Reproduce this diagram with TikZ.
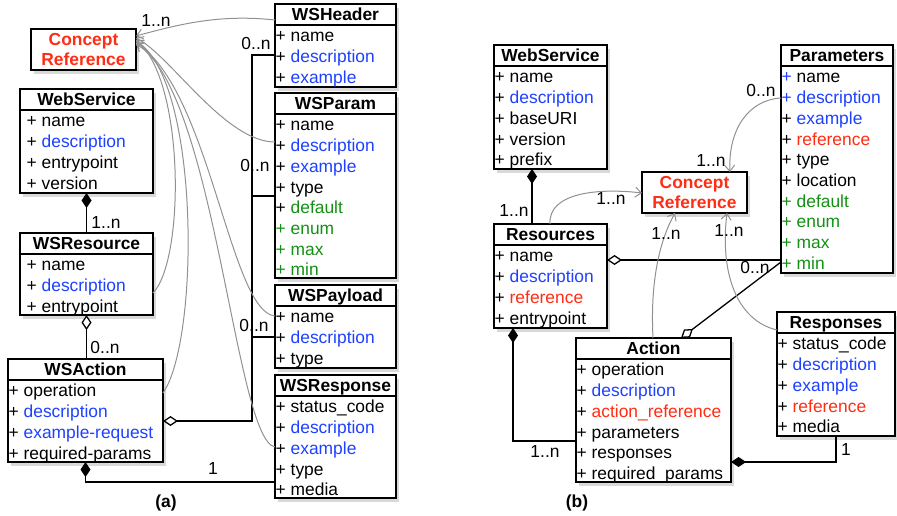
\documentclass[tikz,border=0pt]{standalone}
\usepackage{fontspec}
\setmainfont{Liberation Sans}
\usetikzlibrary{arrows.meta,shadows,calc}
\definecolor{ublue}{RGB}{30,65,255}
\definecolor{ured}{RGB}{255,45,20}
\definecolor{ugreen}{RGB}{20,145,20}
\definecolor{ugrey}{RGB}{145,145,145}
\newcommand{\inblue}[1]{\textcolor{ublue}{#1}}
\newcommand{\inred}[1]{\textcolor{ured}{#1}}
\newcommand{\ingreen}[1]{\textcolor{ugreen}{#1}}
\tikzset{
  classbox/.style={draw=black, line width=1.6pt, fill=white, outer sep=0pt, inner sep=0pt,
    drop shadow={opacity=0.3, shadow xshift=3pt, shadow yshift=-4pt}},
  boxline/.style={line width=1.4pt},
  classtitle/.style={font=\fontsize{17.4}{20.7}\selectfont\bfseries, inner sep=0pt},
  classattr/.style={font=\fontsize{17.4}{20.7}\selectfont, align=left, inner sep=0pt},
  crefbox/.style={classbox, font=\fontsize{17.4}{20}\selectfont\bfseries, text=ured, align=center},
  lbl/.style={font=\fontsize{17.4}{20}\selectfont, inner sep=0pt},
  conn/.style={line width=1.3pt},
  refarrow/.style={draw=ugrey, line width=1pt, -{Straight Barb[length=6pt,width=10pt]}},
  fdia/.style={{Diamond[length=15pt,width=10pt,fill=black]}-},
  odia/.style={{Diamond[length=15pt,width=10pt,fill=white]}-},
}
\newcommand{\umlbox}[8]{%
  \node[classbox, minimum width=#4pt, minimum height=#5pt, anchor=north west] (#1) at (#2,#3) {};
  \draw[boxline] ($(#1.north west)+(0,21)$) -- ($(#1.north east)+(0,21)$);
  \node[classtitle, anchor=base] (#1-t) at ($(#1.north)+(0,16.5)$) {#6};
  \node[classattr, anchor=north west] (#1-a) at ($(#1.north west)+(#8,23.3)$) {#7};
}
\begin{document}
\begin{tikzpicture}[x=1pt,y=-1pt]
\useasboundingbox (0,0) rectangle (897,516);
% ---------- (a) ----------
\node[crefbox, minimum width=105pt, minimum height=41pt, anchor=north west] (cref1) at (31,29) {Concept\\Reference};
\umlbox{ws1}{20}{89}{133}{104}{WebService}{\strut+ name\\+ \inblue{description}\\+ entrypoint\\+ version}{6.5}
\umlbox{wsr1}{20}{233}{133}{82}{WSResource}{\strut+ name\\+ \inblue{description}\\+ entrypoint}{6.5}
\umlbox{wsa1}{8}{359}{155}{103}{WSAction}{\strut+ operation\\+ \inblue{description}\\+ \inblue{example-request}\\+ required-params}{0.5}
\umlbox{wsh}{275}{4}{121}{83}{WSHeader}{\strut+ name\\+ \inblue{description}\\+ \inblue{example}}{0.5}
\umlbox{wsp}{275}{93}{121}{185}{WSParam}{\strut+ name\\+ \inblue{description}\\+ \inblue{example}\\+ type\\+ \ingreen{default}\\\ingreen{+ enum}\\\ingreen{+ max}\\\ingreen{+ min}}{0.5}
\umlbox{wspl}{275}{285}{121}{83}{WSPayload}{\strut+ name\\+ \inblue{description}\\+ type}{0.5}
\umlbox{wsresp}{275}{375}{121}{123}{WSResponse}{\strut+ status\_code\\+ \inblue{description}\\+ \inblue{example}\\+ type\\+ media}{0.5}

\draw[conn, fdia] (ws1.south) -- (ws1.south |- wsr1.north);
\draw[conn, odia] (wsr1.south) -- (wsr1.south |- wsa1.north);
\draw[conn, fdia] (wsa1.south) -- (wsa1.south |- 0,482) -- (wsresp.west |- 0,482);
\draw[conn, odia] (wsa1.east |- 0,421) -- (252,421) -- (252,55) -- (wsh.west |- 0,55);
\draw[conn] (252,196) -- (wsp.west |- 0,196);
\draw[conn] (252,337) -- (wspl.west |- 0,337);

\draw[refarrow] (wsh.west |- 0,20) .. controls (220,14) and (180,24) .. (cref1.east |- 0,36);
\draw[refarrow] (wsp.west |- 0,142) .. controls (225,142) and (170,55) .. (cref1.east |- 0,38);
\draw[refarrow] (wsr1.east |- 0,293) .. controls (185,260) and (185,80) .. (cref1.east |- 0,40);
\draw[refarrow] (wsa1.east |- 0,393) .. controls (200,340) and (200,80) .. (cref1.east |- 0,41);
\draw[refarrow] (wspl.west |- 0,316) .. controls (230,312) and (210,90) .. (cref1.east |- 0,43);
\draw[refarrow] (wsresp.west |- 0,447) .. controls (235,440) and (215,90) .. (cref1.east |- 0,44);

\node[lbl] (la1) at (156,21) {1..n};
\node[lbl] (la2) at (106,223) {1..n};
\node[lbl] (la3) at (105,348) {0..n};
\node[lbl] (la4) at (213,469) {1};
\node[lbl] (la5) at (256,44) {0..n};
\node[lbl] (la6) at (255,166) {0..n};
\node[lbl] (la7) at (254,326) {0..n};
\node[lbl, font=\fontsize{17.4}{20}\selectfont\bfseries] (capa) at (166,503) {(a)};

% ---------- (b) ----------
\umlbox{ws2}{494}{45}{113}{124}{WebService}{\strut+ name\\+ \inblue{description}\\+ baseURI\\+ version\\+ prefix}{0.5}
\umlbox{res}{494}{224}{113}{104}{Resources}{\strut+ name\\+ \inblue{description}\\+ \inred{reference}\\+ entrypoint}{0.5}
\node[crefbox, minimum width=105pt, minimum height=41pt, anchor=north west] (cref2) at (642,172) {Concept\\Reference};
\umlbox{par}{781}{45}{112}{228}{Parameters}{\strut\inblue{+} name\\\inblue{+ description}\\+ \inblue{example}\\+ \inred{reference}\\+ type\\+ location\\\ingreen{+ default}\\\ingreen{+ enum}\\\ingreen{+ max}\\\ingreen{+ min}}{0.5}
\umlbox{act}{576}{338}{155}{144}{Action}{\strut+ operation\\+ \inblue{description}\\+ \inred{action\_reference}\\+ parameters\\+ responses\\+ required\_params}{0.5}
\umlbox{resp}{777}{312}{118}{124}{Responses}{\strut+ status\_code\\+ \inblue{description}\\+ \inblue{example}\\+ \inred{reference}\\+ media}{0.5}

\draw[conn, fdia] (ws2.south -| 532,0) -- (res.north -| 532,0);
\draw[refarrow] (res.north -| 550,0) .. controls (548,192) and (600,188) .. (cref2.west |- 0,193);
\draw[refarrow] (par.west |- 0,98) .. controls (748,100) and (728,130) .. (cref2.north -| 730,0);
\draw[conn, odia] (res.east |- 0,260) -- (par.west |- 0,260);
\draw[conn, odia] (act.north -| 681,0) -- (par.west |- 0,262);
\draw[refarrow] (act.north -| 653,0) .. controls (650,280) and (660,240) .. (cref2.south -| 675,0);
\draw[refarrow] (resp.west |- 0,330) .. controls (735,320) and (720,270) .. (cref2.south -| 727,0);
\draw[conn, fdia] (act.east |- 0,462) -- (resp.south |- 0,462) -- (resp.south);
\draw[conn, fdia] (res.south -| 513,0) -- (513,441) -- (act.west |- 0,441);

\node[lbl] (lb1) at (514,211) {1..n};
\node[lbl] (lb2) at (611,199) {1..n};
\node[lbl] (lb3) at (761,91) {0..n};
\node[lbl] (lb4) at (711,161) {1..n};
\node[lbl] (lb5) at (666,234) {1..n};
\node[lbl] (lb6) at (729,231) {1..n};
\node[lbl] (lb7) at (755,268) {0..n};
\node[lbl] (lb8) at (846,450) {1};
\node[lbl] (lb9) at (545,452) {1..n};
\node[lbl, font=\fontsize{17.4}{20}\selectfont\bfseries] (capb) at (577,503) {(b)};
\end{tikzpicture}
\end{document}
